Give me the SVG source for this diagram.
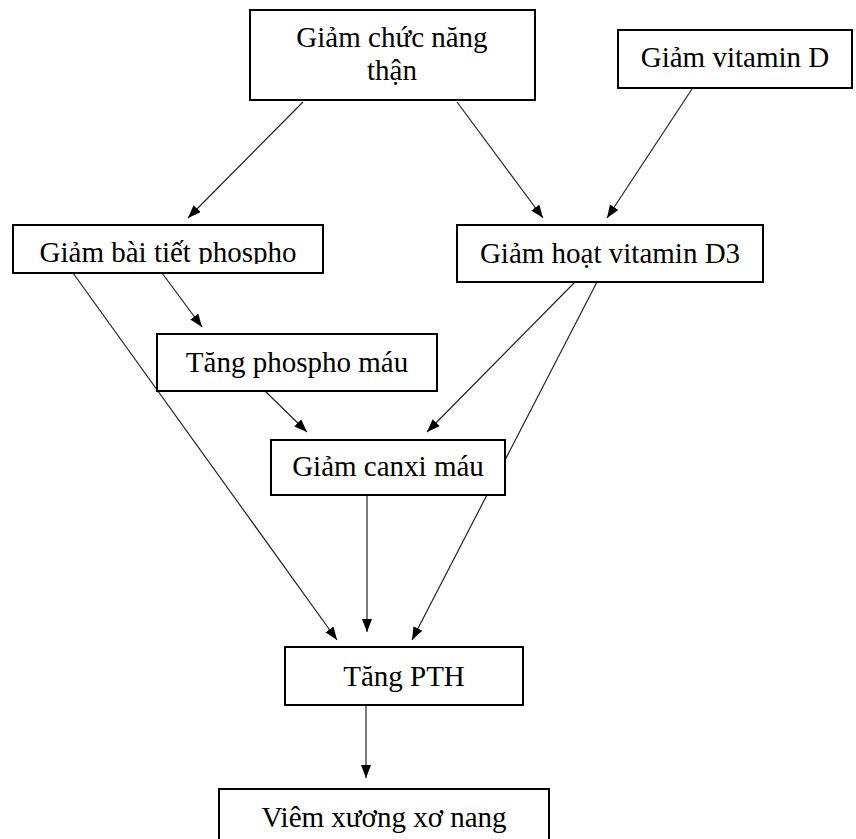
<svg xmlns="http://www.w3.org/2000/svg" width="856" height="839" viewBox="0 0 856 839">
<style>
.box{fill:#fff;stroke:#000;stroke-width:2}
.t{font-family:"Liberation Serif","Times New Roman",serif;font-size:29px;fill:#000;text-anchor:middle}
.c{stroke:#222;stroke-width:1.2;fill:none;marker-end:url(#ah)}
</style>
<defs>
<marker id="ah" markerUnits="userSpaceOnUse" markerWidth="14" markerHeight="10" refX="13" refY="5" orient="auto">
<path d="M0,0 L13,5 L0,10 z" fill="#000"/>
</marker>
<clipPath id="clip3"><rect x="13" y="225" width="310" height="39"/></clipPath>
</defs>
<rect width="856" height="839" fill="#fff"/>
<g id="connectors">
<line class="c" x1="303" y1="102" x2="188" y2="218"/>
<line class="c" x1="457" y1="102" x2="543" y2="218"/>
<line class="c" x1="692" y1="89" x2="607" y2="218"/>
<line class="c" x1="162" y1="273" x2="202" y2="327"/>
<line class="c" x1="73" y1="273" x2="337" y2="640"/>
<line class="c" x1="575" y1="282" x2="427" y2="432"/>
<line class="c" x1="597" y1="282" x2="412" y2="640"/>
<line class="c" x1="265" y1="391" x2="307" y2="432"/>
<line class="c" x1="367" y1="495" x2="367" y2="632"/>
<line class="c" x1="366" y1="705" x2="366" y2="778"/>
</g>
<g id="n1"><rect class="box" x="250" y="10" width="285" height="90"/><text class="t" x="392" y="47">Giảm chức năng</text><text class="t" x="392" y="80">thận</text></g>
<g id="n2"><rect class="box" x="618" y="30" width="234" height="58"/><text class="t" x="735" y="67">Giảm vitamin D</text></g>
<g id="n3"><rect class="box" x="13" y="225" width="310" height="48"/><text class="t" x="168" y="262" clip-path="url(#clip3)">Giảm bài tiết phospho</text></g>
<g id="n4"><rect class="box" x="457" y="225" width="306" height="57"/><text class="t" x="610" y="263">Giảm hoạt vitamin D3</text></g>
<g id="n5"><rect class="box" x="157" y="334" width="280" height="57"/><text class="t" x="297" y="372">Tăng phospho máu</text></g>
<g id="n6"><rect class="box" x="271" y="440" width="234" height="55"/><text class="t" x="388" y="476">Giảm canxi máu</text></g>
<g id="n7"><rect class="box" x="285" y="647" width="238" height="58"/><text class="t" x="404" y="686">Tăng PTH</text></g>
<g id="n8"><rect class="box" x="219" y="789" width="330" height="60"/><text class="t" x="384" y="827">Viêm xương xơ nang</text></g>
</svg>
